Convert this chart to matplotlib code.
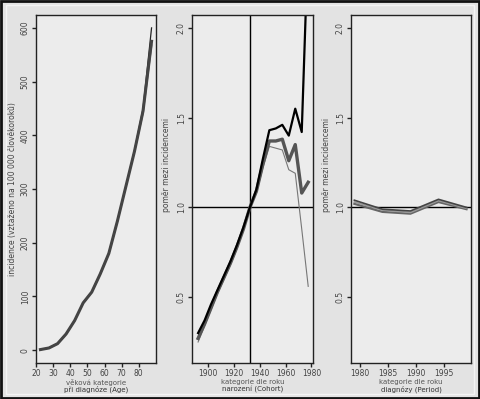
import matplotlib.pyplot as plt
from matplotlib.patches import Rectangle

# Age effect (incidence per 100 000 person-years)
age = [22.5, 27.5, 32.5, 37.5, 42.5, 47.5, 52.5, 57.5, 62.5, 67.5, 72.5, 77.5, 82.5, 87.5]
age_a = [1, 4, 12, 30, 55, 88, 108, 142, 180, 240, 305, 370, 445, 575]
age_b = [1, 4, 12, 30, 55, 88, 108, 142, 180, 240, 305, 372, 450, 600]
age_c = [1, 4, 12, 30, 55, 88, 108, 142, 180, 240, 305, 370, 442, 568]

# Cohort effect (rate ratio)
cohort = [1892.5, 1897.5, 1902.5, 1907.5, 1912.5, 1917.5, 1922.5, 1927.5, 1932.5,
          1937.5, 1942.5, 1947.5, 1952.5, 1957.5, 1962.5, 1967.5, 1972.5, 1977.5]
coh_black = [0.30, 0.37, 0.46, 0.54, 0.62, 0.70, 0.79, 0.89, 1.0,
             1.10, 1.27, 1.43, 1.44, 1.46, 1.40, 1.55, 1.42, 2.50]
coh_gray = [0.27, 0.35, 0.44, 0.53, 0.61, 0.69, 0.78, 0.88, 1.0,
            1.09, 1.24, 1.37, 1.37, 1.38, 1.26, 1.35, 1.08, 1.14]
coh_thin = [0.25, 0.34, 0.43, 0.52, 0.60, 0.68, 0.77, 0.88, 1.0,
            1.08, 1.22, 1.34, 1.33, 1.32, 1.21, 1.19, 0.88, 0.56]

# Period effect (rate ratio)
period = [1979, 1984, 1989, 1994, 1999]
per_a = [1.04, 0.99, 0.98, 1.045, 1.0]
per_b = [1.02, 0.975, 0.965, 1.03, 0.99]
per_c = [1.03, 0.985, 0.972, 1.038, 0.995]

ratio_ticks = [0.5, 1.0, 1.5, 2.0]

fig = plt.figure(figsize=(4.8, 3.99), dpi=100, facecolor='#e3e3e3')
fig.patches.append(Rectangle((0.002, 0.002), 0.996, 0.996, transform=fig.transFigure,
                             fill=False, edgecolor='#111111', linewidth=2))
fig.patches.append(Rectangle((0.012, 0.012), 0.976, 0.976, transform=fig.transFigure,
                             fill=False, edgecolor='#f4f4f4', linewidth=1))

bottom = 36 / 399
height = 348 / 399
ax1 = fig.add_axes([36 / 480, bottom, 120 / 480, height])
ax2 = fig.add_axes([192 / 480, bottom, 121 / 480, height])
ax3 = fig.add_axes([351 / 480, bottom, 120 / 480, height])

for ax in (ax1, ax2, ax3):
    ax.set_facecolor('#ececec')
    for s in ax.spines.values():
        s.set_color('#222222')
        s.set_linewidth(1)
    ax.tick_params(labelsize=5.5, colors='#222222', labelcolor='#444444',
                   length=3, width=1, pad=1.5)

# panel 1 - age
ax1.plot(age, age_b, color='#222222', lw=0.9)
ax1.plot(age, age_c, color='#666666', lw=1.2)
ax1.plot(age, age_a, color='#444444', lw=2.2)
ax1.set_xlim(19.9, 90.1)
ax1.set_ylim(-24, 624)
ax1.set_xticks([20, 30, 40, 50, 60, 70, 80])
ax1.set_yticks([0, 100, 200, 300, 400, 500, 600])
ax1.set_yticklabels(['0', '100', '200', '300', '400', '500', '600'], rotation=90, va='center')
ax1.set_ylabel('incidence (vztaženo na 100 000 člověkoroků)', fontsize=5.5, color='#444444', labelpad=3)

# panel 2 - cohort
ax2.axhline(1.0, color='black', lw=1)
ax2.axvline(1932.5, color='black', lw=1)
ax2.plot(cohort, coh_thin, color='#777777', lw=0.8)
ax2.plot(cohort, coh_gray, color='#555555', lw=2.4)
ax2.plot(cohort, coh_black, color='black', lw=1.6)
ax2.set_xlim(1887.8, 1981.2)
ax2.set_ylim(0.133, 2.072)
ax2.set_xticks([1900, 1920, 1940, 1960, 1980])
ax2.set_yticks(ratio_ticks)
ax2.set_yticklabels(['0.5', '1.0', '1.5', '2.0'], rotation=90, va='center')
ax2.set_ylabel('poměr mezi incidencemi', fontsize=5.5, color='#444444', labelpad=3)
ax2.yaxis.set_label_coords(-0.17, 0.57)

# panel 3 - period
ax3.axhline(1.0, color='black', lw=1)
ax3.plot(period, per_b, color='#666666', lw=1.6)
ax3.plot(period, per_c, color='#999999', lw=1.2)
ax3.plot(period, per_a, color='#444444', lw=1.2)
ax3.set_xlim(1978.4, 1999.8)
ax3.set_ylim(0.133, 2.072)
ax3.set_xticks([1980, 1985, 1990, 1995])
ax3.set_yticks(ratio_ticks)
ax3.set_yticklabels(['0.5', '1.0', '1.5', '2.0'], rotation=90, va='center')
ax3.set_ylabel('poměr mezi incidencemi', fontsize=5.5, color='#444444', labelpad=3)
ax3.yaxis.set_label_coords(-0.17, 0.57)

# two-line x labels
xlabels = [('věková kategorie', 'při diagnóze (Age)'),
           ('kategorie dle roku', 'narození (Cohort)'),
           ('kategorie dle roku', 'diagnózy (Period)')]
for ax, (l1, l2) in zip((ax1, ax2, ax3), xlabels):
    ax.text(0.5, -0.056, l1, transform=ax.transAxes, ha='center', va='center',
            fontsize=5, color='#555555')
    ax.text(0.5, -0.076, l2, transform=ax.transAxes, ha='center', va='center',
            fontsize=5, color='#333333')

plt.savefig('out.png', dpi=100, facecolor=fig.get_facecolor())
